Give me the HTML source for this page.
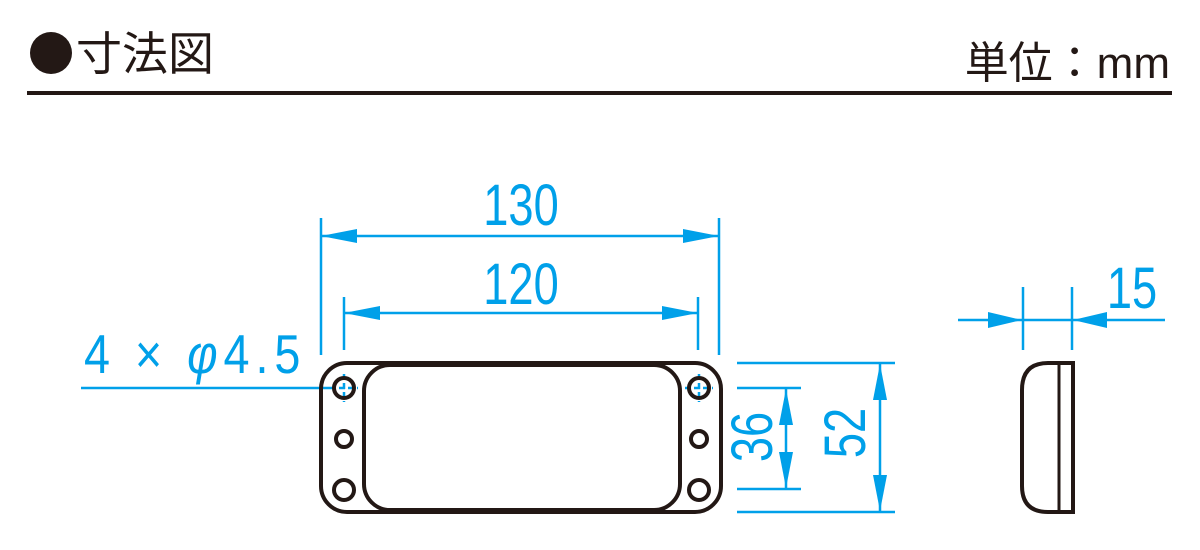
<!DOCTYPE html>
<html><head><meta charset="utf-8"><style>
html,body{margin:0;padding:0;background:#fff;}
svg{display:block}
</style></head><body>
<svg width="1200" height="550" viewBox="0 0 1200 550" xmlns="http://www.w3.org/2000/svg">
<circle cx="51" cy="53" r="21" fill="#231815"/>
<text x="76" y="70" font-family="'Liberation Sans','Noto Sans CJK JP',sans-serif" font-size="46" fill="#231815">寸法図</text>
<text x="1170" y="78" text-anchor="end" font-family="'Liberation Sans','Noto Sans CJK JP',sans-serif" font-size="44" fill="#231815">単位：mm</text>
<rect x="27" y="91" width="1145" height="4" fill="#231815"/>
<g stroke="#00a0e9" stroke-width="2.5" fill="none">
<line x1="321" y1="218" x2="321" y2="355"/><line x1="719" y1="218" x2="719" y2="355"/>
<line x1="321" y1="236" x2="719" y2="236"/>
<line x1="344" y1="297" x2="344" y2="350"/><line x1="698" y1="297" x2="698" y2="350"/>
<line x1="344" y1="313" x2="698" y2="313"/>
<line x1="81" y1="388" x2="330" y2="388"/>
<line x1="330" y1="388" x2="358" y2="388" stroke-dasharray="6 3"/>
<line x1="344" y1="374" x2="344" y2="402" stroke-dasharray="6 3"/>
<line x1="685" y1="388" x2="713" y2="388" stroke-dasharray="6 3"/>
<line x1="699" y1="374" x2="699" y2="402" stroke-dasharray="6 3"/>
<line x1="737" y1="363" x2="895" y2="363"/><line x1="737" y1="512" x2="895" y2="512"/>
<line x1="737" y1="388" x2="801" y2="388"/><line x1="737" y1="489" x2="801" y2="489"/>
<line x1="786" y1="388" x2="786" y2="489"/><line x1="880" y1="363" x2="880" y2="512"/>
<line x1="958" y1="320" x2="1165" y2="320"/>
<line x1="1023" y1="287" x2="1023" y2="350"/><line x1="1072" y1="287" x2="1072" y2="350"/>
</g>
<g fill="#00a0e9">
<polygon points="321,236 357,229 357,243"/><polygon points="719,236 683,229 683,243"/>
<polygon points="344,313 380,306 380,320"/><polygon points="698,313 662,306 662,320"/>
<polygon points="786,389 779,425 793,425"/><polygon points="786,488 779,452 793,452"/>
<polygon points="880,364 873,400 887,400"/><polygon points="880,511 873,475 887,475"/>
<polygon points="1022,320 988,312 988,328"/><polygon points="1073,320 1107,312 1107,328"/>
</g>
<g font-family="'Liberation Sans',sans-serif" fill="#00a0e9" font-size="58">
<text transform="translate(521,225) scale(0.78,1)" text-anchor="middle">130</text>
<text transform="translate(521,304) scale(0.78,1)" text-anchor="middle">120</text>
<text transform="translate(1132,308) scale(0.78,1)" text-anchor="middle">15</text>
<text transform="translate(772,437) rotate(-90) scale(0.78,1)" text-anchor="middle">36</text>
<text transform="translate(865,433) rotate(-90) scale(0.78,1)" text-anchor="middle">52</text>
<text transform="translate(84,373) scale(0.85,1)" font-size="55" letter-spacing="7">4 × <tspan font-style="italic">φ</tspan>4.5</text>
</g>
<g stroke="#231815" stroke-width="4" fill="none">
<rect x="321" y="363" width="400" height="149" rx="26"/>
<rect x="364" y="365" width="316" height="145" rx="26"/>
<circle cx="344" cy="388" r="10"/><circle cx="344" cy="439" r="8"/><circle cx="344" cy="490" r="10"/>
<circle cx="699" cy="388" r="10"/><circle cx="699" cy="439" r="8"/><circle cx="699" cy="490" r="10"/>
<path d="M1073,363 L1048,363 Q1022,363 1022,390 L1022,486 Q1022,512 1048,512 L1073,512 Z"/>
<line x1="1059" y1="363" x2="1059" y2="512" stroke-width="3"/>
</g>
</svg>
</body></html>
